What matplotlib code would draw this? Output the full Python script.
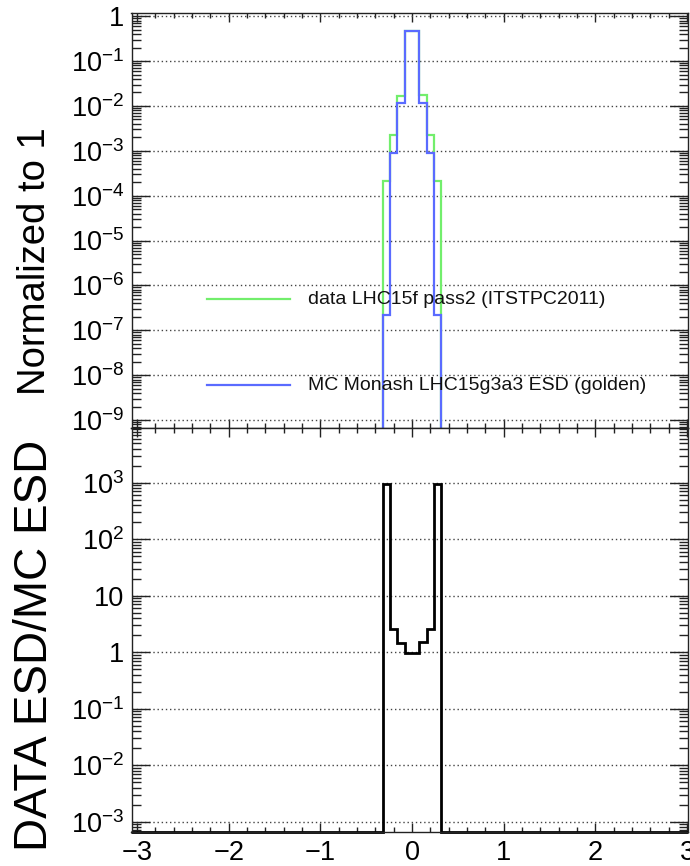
import numpy as np
import matplotlib
matplotlib.use('Agg')
import matplotlib.pyplot as plt
from matplotlib.ticker import LogLocator, FixedLocator, NullFormatter, FixedFormatter, MultipleLocator
from matplotlib.lines import Line2D

plt.rcParams['font.family'] = ['Liberation Sans', 'DejaVu Sans']
plt.rcParams['mathtext.fontset'] = 'custom'
plt.rcParams['mathtext.rm'] = 'Liberation Sans'
plt.rcParams['mathtext.it'] = 'Liberation Sans:italic'
plt.rcParams['mathtext.bf'] = 'Liberation Sans:bold'

# ---- data ----
bin_edges = [-0.32, -0.24, -0.16, -0.08, 0.0, 0.08, 0.16, 0.24, 0.32]
data_values = [2.09e-4, 2.29e-3, 1.67e-2, 0.461, 0.466, 1.72e-2, 2.29e-3, 2.09e-4]
mc_values = [2.2e-7, 8.8e-4, 1.15e-2, 0.48, 0.48, 1.15e-2, 8.8e-4, 2.2e-7]
data_label = 'data LHC15f pass2 (ITSTPC2011)'
mc_label = 'MC Monash LHC15g3a3 ESD (golden)'

xticks = [-3, -2, -1, 0, 1, 2, 3]
top_yticks = [1, 1e-1, 1e-2, 1e-3, 1e-4, 1e-5, 1e-6, 1e-7, 1e-8, 1e-9]
top_ytick_labels = ['1', '$10^{-1}$', '$10^{-2}$', '$10^{-3}$', '$10^{-4}$',
                    '$10^{-5}$', '$10^{-6}$', '$10^{-7}$', '$10^{-8}$', '$10^{-9}$']
bot_yticks = [1e3, 1e2, 10, 1, 1e-1, 1e-2, 1e-3]
bot_ytick_labels = ['$10^{3}$', '$10^{2}$', '10', '1', '$10^{-1}$', '$10^{-2}$', '$10^{-3}$']
top_ylabel = 'Normalized to 1'
bot_ylabel = 'DATA ESD/MC ESD'

GREEN = '#72ee6c'
BLUE = '#5a6bff'

W, H = 690, 866
fig = plt.figure(figsize=(W / 100, H / 100), dpi=100)

xlim = (-3.06, 3.01)
top_ylim = (6.75e-10, 1.2)
bot_ylim = (6.65e-4, 9.3e3)

left = 131.5 / W
right = 688.0 / W
ax1 = fig.add_axes([left, 1 - 427.7 / H, right - left, (427.7 - 12.7) / H])
ax2 = fig.add_axes([left, 1 - 831.7 / H, right - left, (831.7 - 428.0) / H])


def style(ax, yt, ytl, ylim):
    ax.set_xlim(*xlim)
    ax.set_yscale('log')
    ax.set_ylim(*ylim)
    ax.xaxis.set_major_locator(FixedLocator(xticks))
    ax.xaxis.set_minor_locator(MultipleLocator(0.2))
    ax.yaxis.set_major_locator(FixedLocator(yt))
    ax.yaxis.set_major_formatter(FixedFormatter(ytl))
    ax.yaxis.set_minor_locator(LogLocator(base=10, subs=np.arange(2, 10), numticks=200))
    ax.yaxis.set_minor_formatter(NullFormatter())
    ax.tick_params(which='both', direction='in', top=True, right=True,
                   color='#222222', width=1.0, labelsize=19.5)
    ax.tick_params(axis='y', which='major', length=13, pad=5)
    ax.tick_params(axis='y', which='minor', length=6.5)
    ax.tick_params(axis='x', which='major', length=6.5, pad=6)
    ax.tick_params(axis='x', which='minor', length=3.5)
    ax.yaxis.grid(True, which='major', linestyle=(0, (1, 2)), color='#444444', lw=1.0)
    ax.set_axisbelow(True)
    for s in ax.spines.values():
        s.set_color('#222222')
        s.set_linewidth(1.0)


style(ax1, top_yticks, top_ytick_labels, top_ylim)
style(ax2, bot_yticks, bot_ytick_labels, bot_ylim)
ax1.tick_params(axis='x', labelbottom=False)

# top panel histograms
ax1.stairs(data_values, bin_edges, baseline=1e-14, color=GREEN, lw=1.6)
ax1.stairs(mc_values, bin_edges, baseline=1e-14, color=BLUE, lw=1.6)

# ratio panel
ratio = np.array(data_values) / np.array(mc_values)
r_edges = [xlim[0]] + bin_edges + [xlim[1]]
r_vals = [bot_ylim[0]] + list(ratio) + [bot_ylim[0]]
ax2.stairs(r_vals, r_edges, baseline=None, color='black', lw=2.0, clip_on=False)

# legend (manual, positioned like the reference)
for yl, col, lab in [(299, GREEN, data_label), (385, BLUE, mc_label)]:
    fig.add_artist(Line2D([207 / W, 290 / W], [1 - yl / H] * 2, color=col, lw=1.6,
                          transform=fig.transFigure))
    fig.text(308 / W, 1 - yl / H, lab, fontsize=14, va='center', ha='left', color='#111111')

fig.text(35 / W, 1 - 261 / H, top_ylabel, rotation=90, fontsize=27.5, ha='center', va='center')
fig.text(35 / W, 1 - 645 / H, bot_ylabel, rotation=90, fontsize=33, ha='center', va='center')

fig.savefig('out.png', dpi=100)
